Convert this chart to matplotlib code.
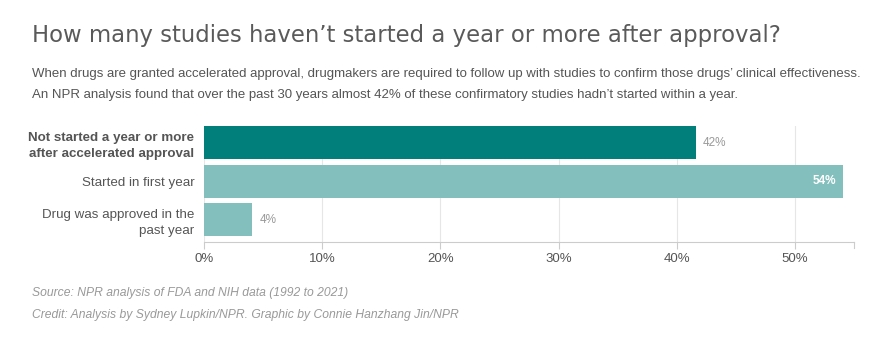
#!/usr/bin/env python3

import matplotlib
matplotlib.use("Agg")
import matplotlib.pyplot as plt


categories = ["Not started a year or more\nafter accelerated approval",
              "Started in first year",
              "Drug was approved in the\npast year"]
values = [41.6, 54.1, 4.1]
value_labels = ["42%", "54%", "4%"]
ticks = [0, 10, 20, 30, 40, 50]
tick_labels = ["0%", "10%", "20%", "30%", "40%", "50%"]


def main():
	fig = plt.figure(figsize=(8.86, 3.56), dpi=100)
	ax = fig.add_axes([204 / 886, 1 - 242 / 356, 650 / 886, 116 / 356])

	colors = ["#007f7b", "#83bfbd", "#83bfbd"]
	ypos = range(len(categories))
	ax.barh(ypos, values, height=0.857, color=colors, zorder=2)

	ax.set_xlim(0, 55)
	ax.set_ylim(2.584, -0.43)
	ax.set_xticks(ticks)
	ax.set_xticklabels(tick_labels)
	ax.set_yticks(list(ypos))
	ax.set_yticklabels(categories, fontfamily="Liberation Sans", fontsize=9.6, color="#555555",
					   linespacing=1.45)
	ax.get_yticklabels()[0].set_fontweight("bold")

	ax.grid(axis="x", color="#e6e6e6", linewidth=0.8, zorder=0)
	for s in ["top", "right", "left"]:
		ax.spines[s].set_visible(False)
	ax.spines["bottom"].set_color("#cccccc")
	ax.tick_params(axis="y", length=0, pad=7)
	ax.tick_params(axis="x", length=5, color="#cccccc", labelsize=9.5, labelcolor="#555555", pad=3)
	for lab in ax.get_xticklabels():
		lab.set_fontfamily("Liberation Sans")
	# extra tick at end of axis
	ax.plot([55, 55], [2.584, 2.584 + 0.15], color="#cccccc", lw=0.8, clip_on=False)

	for i, (v, t) in enumerate(zip(values, value_labels)):
		if v > 50:
			ax.text(v - 0.6, i, t, ha="right", va="center", fontsize=8.5, color="white",
					fontweight="bold", fontfamily="Liberation Sans")
		else:
			ax.text(v + 0.6, i, t, ha="left", va="center", fontsize=8.5, color="#999999",
					fontfamily="Liberation Sans")

	fig.text(32 / 886, 1 - 42 / 356, "How many studies haven\u2019t started a year or more after approval?",
			 fontsize=16.4, color="#5a5a5a", fontfamily="DejaVu Sans")
	fig.text(32 / 886, 1 - 77 / 356,
			 "When drugs are granted accelerated approval, drugmakers are required to follow up with studies to confirm those drugs\u2019 clinical effectiveness.",
			 fontsize=9.5, color="#555555", fontfamily="Liberation Sans")
	fig.text(32 / 886, 1 - 98 / 356,
			 "An NPR analysis found that over the past 30 years almost 42% of these confirmatory studies hadn\u2019t started within a year.",
			 fontsize=9.5, color="#555555", fontfamily="Liberation Sans")
	fig.text(32 / 886, 1 - 296 / 356, "Source: NPR analysis of FDA and NIH data (1992 to 2021)",
			 fontsize=8.7, color="#999999", style="italic", fontfamily="Liberation Sans")
	fig.text(32 / 886, 1 - 318 / 356, "Credit: Analysis by Sydney Lupkin/NPR. Graphic by Connie Hanzhang Jin/NPR",
			 fontsize=8.7, color="#999999", style="italic", fontfamily="Liberation Sans")

	fig.savefig("out.png", dpi=100)


if __name__ == '__main__':
	main()
